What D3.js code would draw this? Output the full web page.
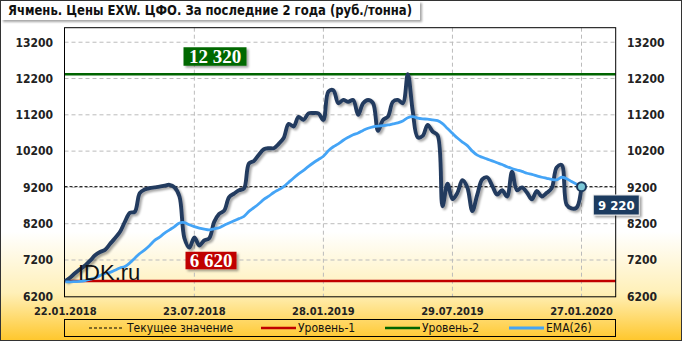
<!DOCTYPE html>
<html>
<head>
<meta charset="utf-8">
<script src="https://cdn.jsdelivr.net/npm/d3@7"></script>
<style>
  body { margin: 0; background: #fff; }
  svg { display: block; font-family: "DejaVu Sans Condensed", "DejaVu Sans", sans-serif; }
</style>
</head>
<body>
<div id="chart"></div>
<script>
const title = "Ячмень. Цены EXW. ЦФО. За последние 2 года (руб./тонна)";
const dateLabels = ["22.01.2018", "23.07.2018", "28.01.2019", "29.07.2019", "27.01.2020"];
const dateLabelIdx = [0, 26, 52, 78, 104];
const yTicks = [6200, 7200, 8200, 9200, 10200, 11200, 12200, 13200];

// weekly price, rub/t
const price = [
  6620, 6720, 6840, 6950, 7050, 7180, 7330, 7420, 7480, 7640,
  7800, 7970, 8250, 8500, 8530, 9040, 9140, 9180, 9200, 9220,
  9250, 9270, 9200, 8950, 7800, 7540, 7820, 7600, 7740, 7800,
  8250, 8470, 8560, 8930, 9030, 9120, 9170, 9860, 9930, 10100,
  10250, 10280, 10280, 10400, 10560, 10950, 10880, 11140, 11060, 11240,
  11250, 11240, 11060, 11840, 11880, 11520, 11610, 11560, 11610, 11200,
  11520, 11610, 11520, 10760, 11060, 11150, 11560, 11610, 11520, 12320,
  11300, 10580, 10620, 10920, 10740, 10640, 8680, 9300, 8880, 9050,
  9400, 9200, 8550, 9000, 9420, 9480, 9250, 9000, 9120, 8950,
  9630, 9120, 9200, 9060, 8870, 9100, 8950, 9050, 9180, 9750,
  9820, 8720, 8620, 8640, 9220
];

// EMA(26) as drawn
const ema = [
  6600, 6600, 6605, 6610, 6630, 6670, 6710, 6770, 6830, 6860,
  6920, 6980, 7020, 7120, 7250, 7380, 7480, 7600, 7740, 7830,
  7940, 8030, 8120, 8220, 8230, 8170, 8120, 8080, 8050, 8030,
  8060, 8090, 8160, 8220, 8280, 8340, 8400, 8540, 8640, 8750,
  8870, 8960, 9060, 9140, 9220, 9340, 9460, 9570, 9670, 9780,
  9880, 9970, 10060, 10210, 10320, 10400, 10500, 10580, 10650, 10700,
  10770, 10830, 10870, 10890, 10900, 10920, 10950, 10980, 11030, 11120,
  11150, 11110, 11090, 11080, 11060, 11040, 10960, 10820, 10690, 10560,
  10450, 10350, 10200, 10090, 10030, 9980, 9930, 9880, 9830, 9770,
  9720, 9680, 9640, 9590, 9560, 9520, 9480, 9450, 9420, 9410,
  9480, 9440, 9360, 9290, 9220
];

const level1 = 6620;
const level2 = 12320;
const current = 9220;

const legendNames = ["Текущее значение", "Уровень-1", "Уровень-2", "EMA(26)"];

const width = 682, height = 341;
const plot = { left: 64.5, top: 27.7, right: 615.7, bottom: 296.8 };

const svg = d3.select("#chart").append("svg")
    .attr("width", width)
    .attr("height", height);

const defs = svg.append("defs");
const grad = defs.append("linearGradient")
    .attr("id", "bg").attr("x1", 0).attr("y1", 0).attr("x2", 0).attr("y2", 1);
grad.append("stop").attr("offset", "0.68").attr("stop-color", "#ffffff");
grad.append("stop").attr("offset", "0.86").attr("stop-color", "#fff0b8");
grad.append("stop").attr("offset", "1").attr("stop-color", "#ffc72c");

defs.append("filter").attr("id", "shadow")
    .attr("x", "-10%").attr("y", "-10%").attr("width", "130%").attr("height", "140%")
  .append("feDropShadow")
    .attr("dx", 2).attr("dy", 2).attr("stdDeviation", 1.3)
    .attr("flood-color", "#000").attr("flood-opacity", 0.35);

svg.append("rect")
    .attr("x", 0.5).attr("y", 0.5)
    .attr("width", width - 1).attr("height", height - 1)
    .attr("fill", "url(#bg)")
    .attr("stroke", "#333");

// title
svg.append("rect")
    .attr("x", 1).attr("y", 1).attr("width", 419).attr("height", 19)
    .attr("fill", "#fff")
    .attr("filter", "url(#shadow)");
svg.append("text")
    .attr("x", 8).attr("y", 15)
    .attr("font-size", 13.5).attr("font-weight", "bold").attr("fill", "#111")
    .attr("textLength", 404).attr("lengthAdjust", "spacingAndGlyphs")
    .text(title);

const x = d3.scaleLinear().domain([0, price.length - 1]).range([65.3, 581.5]);
const y = d3.scaleLinear().domain([6200, 13600]).range([296.3, plot.top]);

// gridlines
svg.append("g").selectAll("line")
  .data(yTicks.slice(1))
  .join("line")
    .attr("x1", plot.left).attr("x2", plot.right)
    .attr("y1", d => y(d)).attr("y2", d => y(d))
    .attr("stroke", "#bbb").attr("stroke-dasharray", "4,3");

svg.append("g").selectAll("line")
  .data(dateLabelIdx.slice(1))
  .join("line")
    .attr("x1", d => x(d)).attr("x2", d => x(d))
    .attr("y1", plot.top).attr("y2", plot.bottom)
    .attr("stroke", "#bbb").attr("stroke-dasharray", "4,3");

// axis labels
const yLab = svg.append("g").attr("font-size", 12).attr("font-weight", "bold").attr("fill", "#222");
yLab.selectAll("text.l")
  .data(yTicks)
  .join("text")
    .attr("class", "l")
    .attr("x", 53).attr("y", d => y(d)).attr("dy", "0.36em")
    .attr("text-anchor", "end")
    .text(d => d);
yLab.selectAll("text.r")
  .data(yTicks)
  .join("text")
    .attr("class", "r")
    .attr("x", 627).attr("y", d => y(d)).attr("dy", "0.36em")
    .text(d => d);

svg.append("g").selectAll("text")
  .data(dateLabels)
  .join("text")
    .attr("x", (d, i) => x(dateLabelIdx[i]))
    .attr("y", 315)
    .attr("text-anchor", "middle")
    .attr("font-size", 11).attr("font-weight", "bold").attr("fill", "#222")
    .text(d => d);

// level lines
svg.append("line")
    .attr("x1", plot.left).attr("x2", plot.right)
    .attr("y1", y(current)).attr("y2", y(current))
    .attr("stroke", "#000").attr("stroke-dasharray", "3,2");
svg.append("line")
    .attr("x1", plot.left).attr("x2", plot.right)
    .attr("y1", y(level1)).attr("y2", y(level1))
    .attr("stroke", "#c00000").attr("stroke-width", 2.5);
svg.append("line")
    .attr("x1", plot.left).attr("x2", plot.right)
    .attr("y1", y(level2)).attr("y2", y(level2))
    .attr("stroke", "#006400").attr("stroke-width", 2.5);

// plot frame
svg.append("rect")
    .attr("x", plot.left).attr("y", plot.top)
    .attr("width", plot.right - plot.left).attr("height", plot.bottom - plot.top)
    .attr("fill", "none").attr("stroke", "#000");

// series
const line = d3.line()
    .x((d, i) => x(i))
    .y(d => y(d))
    .curve(d3.curveCatmullRom.alpha(0.5));

svg.append("path")
    .datum(price)
    .attr("d", line)
    .attr("fill", "none")
    .attr("stroke", "#243a5e").attr("stroke-width", 3.9)
    .attr("stroke-linejoin", "round")
    .attr("filter", "url(#shadow)");

svg.append("path")
    .datum(ema)
    .attr("d", line)
    .attr("fill", "none")
    .attr("stroke", "#44a4f6").attr("stroke-width", 2.8)
    .attr("stroke-linejoin", "round");

const last = price.length - 1;
svg.append("circle")
    .attr("cx", x(last)).attr("cy", y(price[last]))
    .attr("r", 4.5)
    .attr("fill", "#7cc8d8").attr("stroke", "#1c3a5e").attr("stroke-width", 2);

// watermark
svg.append("text")
    .attr("x", 78).attr("y", 280)
    .attr("font-family", "'Liberation Sans', Arial, sans-serif")
    .attr("font-size", 22).attr("fill", "#111")
    .text("IDK.ru");

// value boxes
function valueBox(cx, cy, w, h, fill, txt, font, size) {
  const g = svg.append("g");
  g.append("rect")
      .attr("x", cx - w / 2).attr("y", cy - h / 2)
      .attr("width", w).attr("height", h)
      .attr("fill", fill)
      .attr("filter", "url(#shadow)");
  g.append("text")
      .attr("x", cx).attr("y", cy).attr("dy", "0.35em")
      .attr("text-anchor", "middle")
      .attr("font-family", font)
      .attr("font-size", size).attr("font-weight", "bold")
      .attr("fill", "#fff")
      .text(txt);
  return g;
}
const fmt = v => d3.format(",")(v).replace(",", " ");
valueBox(215, 56.5, 63, 18.5, "#056705", fmt(level2), "'Liberation Serif', 'Times New Roman', serif", 19);
valueBox(211, 260.5, 51, 17.5, "#c00000", fmt(level1), "'Liberation Serif', 'Times New Roman', serif", 19);
valueBox(616.3, 205, 46, 20, "#1c3a5e", fmt(current), "'DejaVu Sans Condensed', 'DejaVu Sans', sans-serif", 13)
  .select("rect").attr("stroke", "#e8e8e8").attr("stroke-width", 1);

// legend
svg.append("rect")
    .attr("x", 64.5).attr("y", 319.5).attr("width", 551).attr("height", 17)
    .attr("fill", "none").attr("stroke", "#000");

const legendX = [89, 261, 385, 509];
const legendStyle = [
  { color: "#000", width: 1, dash: "3,2" },
  { color: "#c00000", width: 2.5, dash: null },
  { color: "#006400", width: 2.5, dash: null },
  { color: "#44a4f6", width: 3, dash: null }
];
const leg = svg.append("g").selectAll("g")
  .data(legendNames)
  .join("g")
    .attr("transform", (d, i) => `translate(${legendX[i]},328)`);
leg.append("line")
    .attr("x1", 0).attr("x2", 35)
    .attr("stroke", (d, i) => legendStyle[i].color)
    .attr("stroke-width", (d, i) => legendStyle[i].width)
    .attr("stroke-dasharray", (d, i) => legendStyle[i].dash);
leg.append("text")
    .attr("x", (d, i) => i === 0 ? 38 : 37)
    .attr("dy", "0.36em")
    .attr("font-size", 12).attr("fill", "#111")
    .text(d => d);
</script>
</body>
</html>
